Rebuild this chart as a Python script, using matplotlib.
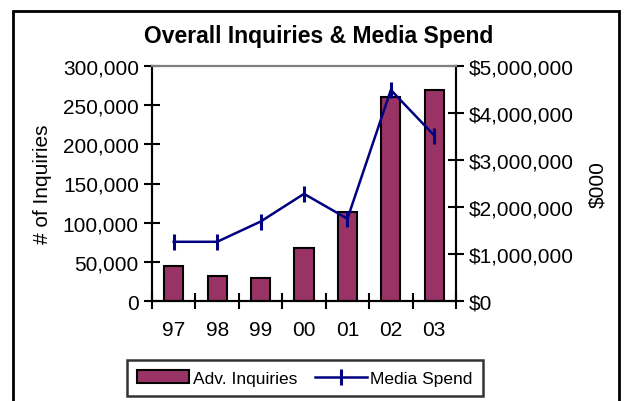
import matplotlib
matplotlib.use("Agg")
import matplotlib.pyplot as plt
from matplotlib.ticker import FuncFormatter, FixedLocator
from matplotlib.patches import Rectangle

years = ["97", "98", "99", "00", "01", "02", "03"]
inquiries = [45000, 32000, 30000, 68000, 114000, 260000, 270000]
media_spend = [1260000, 1260000, 1690000, 2280000, 1750000, 4490000, 3520000]

bar_color = "#993366"
line_color = "#000080"

plt.rcParams["font.family"] = ["Liberation Sans", "DejaVu Sans"]

fig = plt.figure(figsize=(6.25, 4.02), dpi=100)
ax = fig.add_axes([152 / 625, 1 - 302 / 402, 304 / 625, 235 / 402])
ax2 = ax.twinx()

x = list(range(len(years)))
bars = ax.bar(x, inquiries, width=0.44, color=bar_color, edgecolor="black", linewidth=1.5, zorder=2)
line, = ax2.plot(x, media_spend, color=line_color, linewidth=1.8, marker="|",
                 markersize=11, markeredgewidth=2.2, zorder=3)
ax2.set_zorder(ax.get_zorder() + 1)
ax2.patch.set_visible(False)

ax.set_xlim(-0.5, len(years) - 0.5)
ax.set_ylim(0, 300000)
ax2.set_ylim(0, 5000000)

ax.set_yticks(range(0, 300001, 50000))
ax2.set_yticks(range(0, 5000001, 1000000))
ax.yaxis.set_major_formatter(FuncFormatter(lambda v, p: f"{int(v):,}"))
ax2.yaxis.set_major_formatter(FuncFormatter(lambda v, p: f"${int(v):,}"))

# category labels in the middle, tick marks on the boundaries
ax.set_xticks(x)
ax.set_xticklabels(years)
ax.xaxis.set_minor_locator(FixedLocator([i + 0.5 for i in range(-1, len(years))]))
ax.tick_params(axis="x", which="major", length=0, pad=14, labelsize=15)
ax.tick_params(axis="x", which="minor", direction="inout", length=11, width=1.5)
ax.tick_params(axis="y", direction="inout", length=11, width=1.5, pad=4, labelsize=15)
ax2.tick_params(axis="y", direction="inout", length=11, width=1.5, pad=4, labelsize=15)

for a in (ax, ax2):
    for side in ("left", "bottom", "right"):
        a.spines[side].set_linewidth(1.5)
        a.spines[side].set_color("black")
    a.spines["top"].set_color("#808080")
    a.spines["top"].set_linewidth(1.5)

ax.set_ylabel("# of Inquiries", fontsize=15, labelpad=8)
ax2.set_ylabel("$000", fontsize=15, labelpad=10)

fig.text(319 / 625, 1 - 36 / 402, "Overall Inquiries & Media Spend",
         ha="center", va="center", fontsize=16.5, fontweight="bold")

leg = fig.legend([bars, line], ["Adv. Inquiries", "Media Spend"], loc="center",
                 bbox_to_anchor=(305 / 625, 1 - 379 / 402), ncol=2, frameon=True,
                 fancybox=False, edgecolor="black", fontsize=12.5, handlelength=3.0,
                 handleheight=0.8, handletextpad=0.2, columnspacing=1.0, borderpad=0.6)
leg.get_frame().set_linewidth(1.8)

# outer chart border
fig.patches.append(Rectangle((13 / 625, -0.02), 606 / 625, 1.02 - 12 / 402,
                             transform=fig.transFigure, fill=False,
                             edgecolor="black", linewidth=2))

fig.savefig("out.png", dpi=100)
